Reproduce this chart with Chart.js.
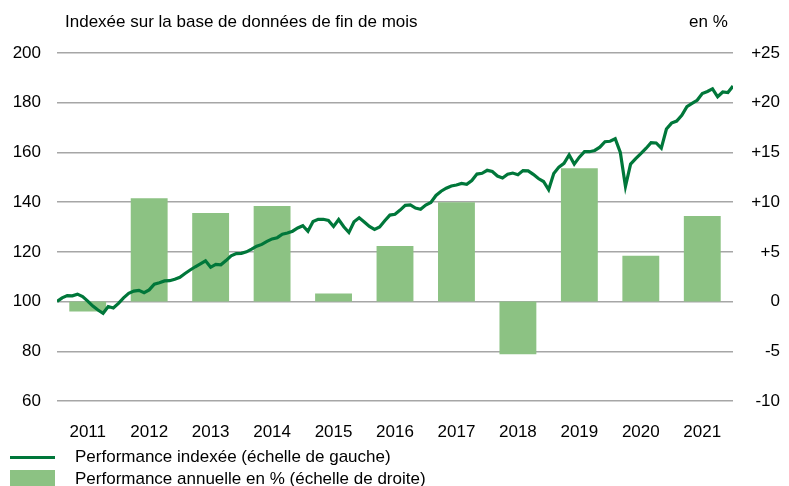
<!DOCTYPE html>
<html>
<head>
<meta charset="utf-8">
<script src="https://cdn.jsdelivr.net/npm/chart.js@4"></script>
<style>
  body { margin: 0; background: #fff; }
  #wrap { position: relative; width: 789px; height: 486px; font-family: "Liberation Sans", Arial, sans-serif; color: #000; overflow: hidden; }
  #plot-data { position: absolute; left: 0; top: 0; }
  .txt { position: absolute; font-size: 17px; white-space: nowrap; line-height: 20px; }
  .swatch { position: absolute; }
</style>
</head>
<body>
<div id="wrap">
  <canvas id="plot-data" width="789" height="486"></canvas>
  <div class="txt" style="left:65px; top:12px;">Indexée sur la base de données de fin de mois</div>
  <div class="txt" style="left:689px; top:12px;">en %</div>
  <div class="swatch" style="left:10px; top:456px; width:45px; height:3px; background:#00773a;"></div>
  <div class="txt" style="left:75px; top:447px;">Performance indexée (échelle de gauche)</div>
  <div class="swatch" style="left:10px; top:470px; width:45px; height:18px; background:#8cc283;"></div>
  <div class="txt" style="left:75px; top:469px;">Performance annuelle en % (échelle de droite)</div>
</div>
<script>
// annual performance in % (right axis)
const years = ['2011', '2012', '2013', '2014', '2015', '2016', '2017', '2018', '2019', '2020', '2021'];
const annualPerf = [-1.0, 10.4, 8.9, 9.6, 0.8, 5.6, 10.0, -5.3, 13.4, 4.6, 8.6];

// indexed performance, month end values Dec 2010 .. Dec 2021 (left axis)
const indexed = [
    100, 101.5, 102.4, 102.3, 103, 102, 100.2, 98.2, 96.6, 95.3, 98, 97.4,
    99.3, 101.5, 103.3, 104.2, 104.5, 103.6, 104.7, 107, 107.6, 108.3, 108.4, 109,
    109.8, 111.3, 112.7, 114, 115.2, 116.4, 113.8, 115, 114.8, 116.5, 118.4, 119.3,
    119.4, 120, 121.1, 122.3, 123, 124.2, 125.2, 125.7, 127.1, 127.6, 128.3, 129.6,
    130.5, 128.3, 132.2, 133.1, 133.1, 132.6, 130.2, 133, 130.1, 127.8, 132.1, 133.7,
    132, 130.2, 129, 130, 132.5, 134.8, 135.1, 136.8, 138.7, 138.9, 137.6, 137.1,
    138.8, 139.9, 142.7, 144.4, 145.6, 146.5, 146.9, 147.5, 147.2, 148.7, 151.3, 151.6,
    152.8, 152.3, 150.5, 149.7, 151.2, 151.7, 151, 152.7, 152.6, 151.2, 149.5, 148.3,
    145, 151.5, 154.1, 155.6, 159, 155.3, 158.1, 160.3, 160.3, 160.8, 162.1, 164.3,
    164.5, 165.5, 160, 146.3, 155.3, 157.5, 159.5, 161.6, 163.9, 163.8, 161.7, 169.4,
    171.8, 172.6, 174.9, 178.4, 179.7, 181, 183.7, 184.5, 185.6, 182.4, 184.3, 184.1,
    186.7
];

const leftTicks = { min: 60, max: 200, step: 20 };
const rightTicks = { min: -10, max: 25, step: 5 };

const lineColor = '#00773a';
const barColor = '#8cc283';
const gridColor = '#a6a6a6';

let linePoints = indexed.map(function(v, i) {
    return { x: i, y: v };
});

let fontTicks = { family: '"Liberation Sans", Arial, sans-serif', size: 17 };

var ctx = document.getElementById('plot-data').getContext('2d');
var chart = new Chart(ctx, {
    data: {
        labels: years,
        datasets: [{
            type: 'line',
            data: linePoints,
            xAxisID: 'xl',
            yAxisID: 'y',
            borderColor: lineColor,
            borderWidth: 3.2,
            radius: 0,
            tension: 0,
            order: 0
        }, {
            type: 'bar',
            data: annualPerf,
            xAxisID: 'x',
            yAxisID: 'y2',
            backgroundColor: barColor,
            grouped: false,
            categoryPercentage: 1,
            barPercentage: 0.6,
            order: 1
        }]
    },
    options: {
        responsive: false,
        animation: false,
        layout: {
            padding: { top: 53, right: 9, bottom: 40, left: 0 }
        },
        plugins: {
            legend: { display: false },
            tooltip: { enabled: false }
        },
        scales: {
            x: {
                type: 'category',
                offset: true,
                grid: { display: false },
                border: { display: false },
                ticks: { color: '#000', font: fontTicks, padding: 13, maxRotation: 0 },
                afterFit: function(scale) { scale.height = 45; }
            },
            xl: {
                type: 'linear',
                display: false,
                min: 0,
                max: indexed.length - 1,
                offset: false
            },
            y: {
                position: 'left',
                min: leftTicks.min,
                max: leftTicks.max,
                ticks: { stepSize: leftTicks.step, color: '#000', font: fontTicks, padding: 16 },
                grid: { color: gridColor, lineWidth: 1.5, drawTicks: false },
                border: { display: false },
                afterFit: function(scale) { scale.width = 57; }
            },
            y2: {
                position: 'right',
                min: rightTicks.min,
                max: rightTicks.max,
                ticks: {
                    stepSize: rightTicks.step,
                    color: '#000',
                    font: fontTicks,
                    crossAlign: 'far',
                    callback: function(value) {
                        return value > 0 ? '+' + value : '' + value;
                    }
                },
                grid: { display: false, drawTicks: false },
                border: { display: false },
                afterFit: function(scale) { scale.width = 47; }
            }
        }
    }
});
</script>
</body>
</html>
